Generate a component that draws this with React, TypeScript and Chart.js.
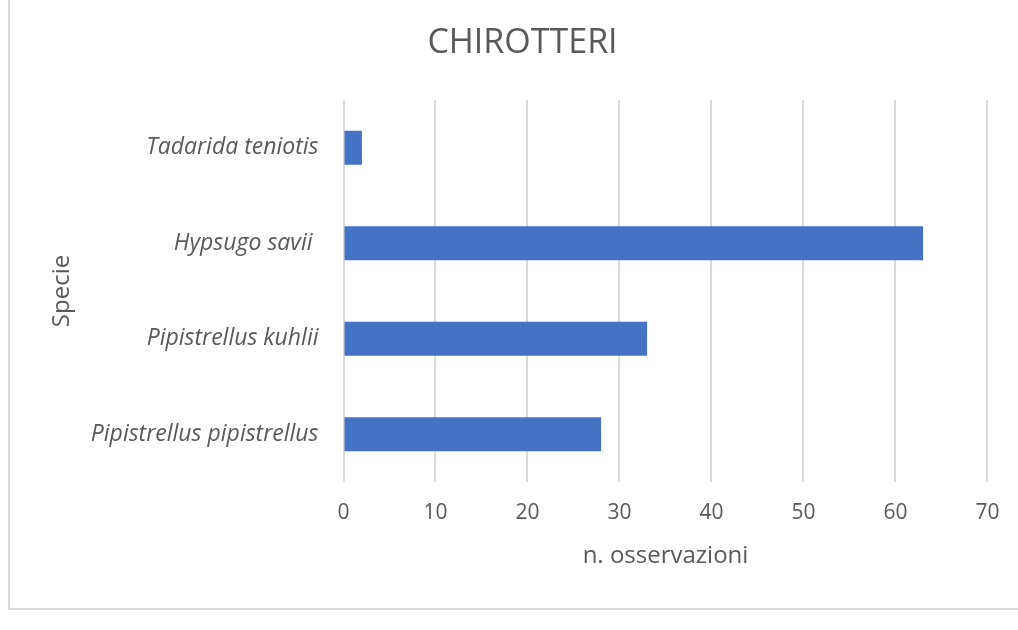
import React, { useEffect, useRef } from "react";
import { Chart, registerables } from "chart.js";

Chart.register(...registerables);

const categories = [
  "Tadarida teniotis",
  "Hypsugo savii ",
  "Pipistrellus kuhlii",
  "Pipistrellus pipistrellus",
];
const observations = [2, 63, 33, 28];
const xTicks = [0, 10, 20, 30, 40, 50, 60, 70];

const TEXT = "#595959";
const FONT = "'Open Sans', 'DejaVu Sans', sans-serif";

export default function App() {
  const ref = useRef<HTMLCanvasElement | null>(null);

  useEffect(() => {
    if (!ref.current) return;
    const chart = new Chart(ref.current, {
      type: "bar",
      data: {
        labels: categories,
        datasets: [
          {
            data: observations,
            backgroundColor: "#4472C4",
            borderWidth: 0,
            barPercentage: 0.355,
            categoryPercentage: 1,
          },
        ],
      },
      options: {
        indexAxis: "y",
        responsive: false,
        animation: false,
        layout: { padding: { left: 50, right: 23, top: 0, bottom: 0 } },
        plugins: {
          legend: { display: false },
          tooltip: { enabled: false },
          title: {
            display: true,
            text: "CHIROTTERI",
            color: TEXT,
            font: { family: FONT, size: 34, weight: "normal", lineHeight: 1.2 },
            padding: { top: 23, bottom: 36.2 },
          },
        },
        scales: {
          x: {
            min: 0,
            max: 70,
            afterBuildTicks: (s: any) => {
              s.ticks = xTicks.map((v) => ({ value: v }));
            },
            afterFit: (s: any) => {
              s.height = 148;
            },
            grid: { color: "#d9d9d9", lineWidth: 2, drawTicks: false },
            border: { display: false },
            ticks: {
              color: TEXT,
              padding: 18.5,
              font: { family: FONT, size: 21 },
            },
            title: {
              display: true,
              text: "n. osservazioni",
              color: TEXT,
              font: { family: FONT, size: 24, lineHeight: 1.2 },
              padding: { top: 0, bottom: 59.6 },
            },
          },
          y: {
            afterFit: (s: any) => {
              s.width = 293.5;
            },
            grid: { display: false, drawTicks: false },
            border: { display: false },
            ticks: {
              color: TEXT,
              padding: 25,
              font: { family: FONT, size: 23, style: "italic" },
            },
            title: {
              display: true,
              text: "Specie",
              color: TEXT,
              font: { family: FONT, size: 24, lineHeight: 1 },
              padding: { top: 0, bottom: 0 },
            },
          },
        },
      },
    } as any);
    return () => chart.destroy();
  }, []);

  return (
    <div
      style={{
        position: "absolute",
        left: 0,
        top: 0,
        width: 1018,
        height: 630,
        overflow: "hidden",
        background: "#ffffff",
      }}
    >
      <div
        style={{
          position: "absolute",
          left: 8,
          top: -10,
          width: 1100,
          height: 616,
          border: "2px solid #d9d9d9",
          boxSizing: "content-box",
        }}
      />
      <canvas
        ref={ref}
        width={1018}
        height={630}
        style={{ position: "absolute", left: 0, top: 0 }}
      />
    </div>
  );
}
